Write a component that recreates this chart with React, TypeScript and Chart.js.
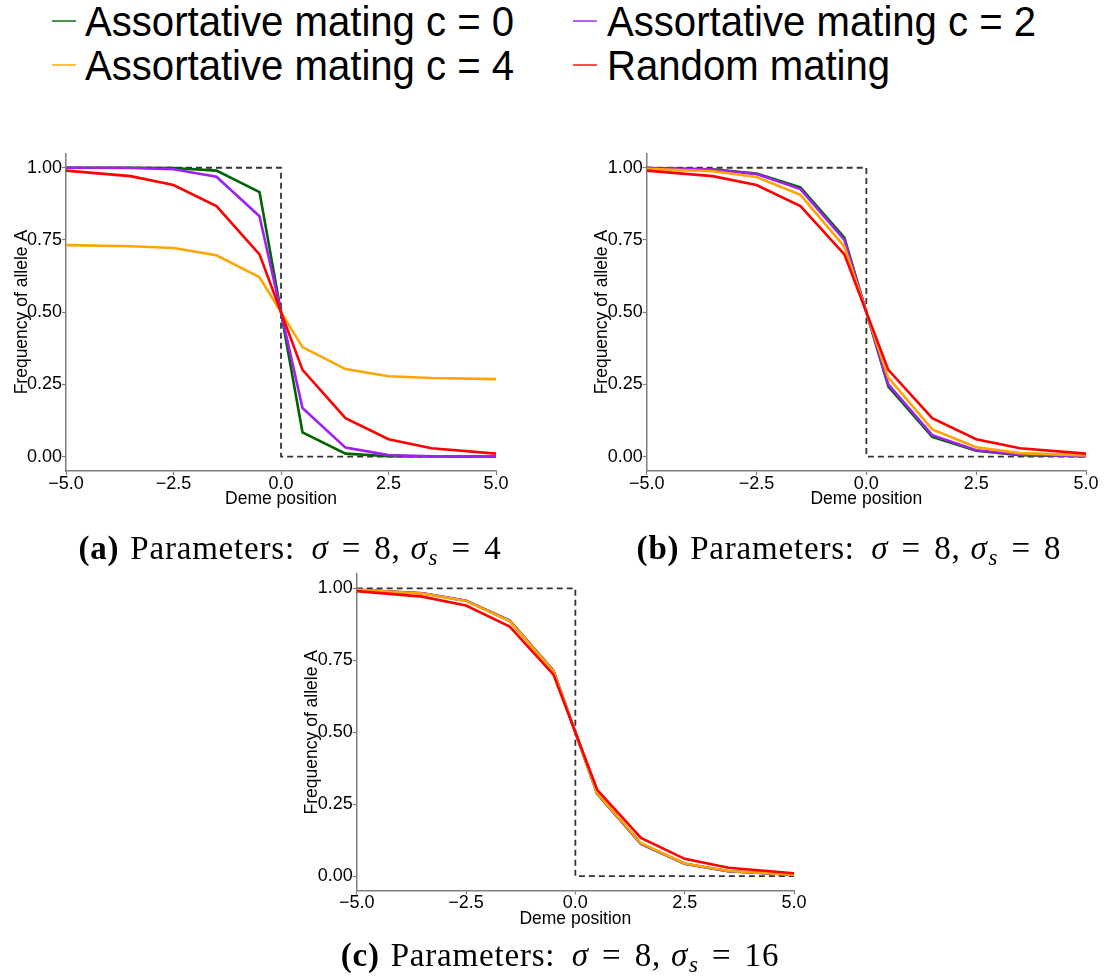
import React, { useEffect, useRef } from 'react';
import Chart from 'chart.js/auto';

// ---- data ----
const demeX = [-5, -3.5, -2.5, -1.5, -0.5, 0, 0.5, 1.5, 2.5, 3.5, 5];
const stepX = [-5, 0, 0, 5];
const stepY = [1, 1, 0, 0];
const xTicks = [-5, -2.5, 0, 2.5, 5];
const yTicks = [0, 0.25, 0.5, 0.75, 1];

const seriesNames = ['Assortative mating c = 0', 'Assortative mating c = 2', 'Assortative mating c = 4', 'Random mating'];
const seriesColors = ['#006400', '#a020f0', '#ffa500', '#ff0000'];

// panel (a) sigma = 8, sigma_s = 4
const aC0 = [1.0, 1.0, 0.999, 0.99, 0.916, 0.5, 0.084, 0.01, 0.001, 0.0, 0.0];
const aC2 = [1.0, 0.999, 0.995, 0.969, 0.832, 0.5, 0.168, 0.031, 0.005, 0.001, 0.0];
const aC4 = [0.732, 0.728, 0.722, 0.697, 0.621, 0.5, 0.379, 0.303, 0.278, 0.272, 0.268];
const aRnd = [0.99, 0.971, 0.94, 0.867, 0.7, 0.5, 0.3, 0.133, 0.06, 0.029, 0.01];

// panel (b) sigma = 8, sigma_s = 8
const bC0 = [0.999, 0.995, 0.98, 0.932, 0.758, 0.5, 0.242, 0.068, 0.02, 0.005, 0.001];
const bC2 = [0.999, 0.994, 0.978, 0.926, 0.75, 0.5, 0.25, 0.074, 0.022, 0.006, 0.001];
const bC4 = [0.996, 0.988, 0.968, 0.906, 0.727, 0.5, 0.273, 0.094, 0.032, 0.012, 0.004];
const bRnd = [0.99, 0.971, 0.94, 0.867, 0.7, 0.5, 0.3, 0.133, 0.06, 0.029, 0.01];

// panel (c) sigma = 8, sigma_s = 16
const cC0 = [0.995, 0.983, 0.957, 0.888, 0.714, 0.5, 0.286, 0.112, 0.043, 0.017, 0.005];
const cC2 = [0.995, 0.983, 0.957, 0.887, 0.713, 0.5, 0.287, 0.113, 0.043, 0.017, 0.005];
const cC4 = [0.995, 0.982, 0.956, 0.886, 0.712, 0.5, 0.288, 0.114, 0.044, 0.018, 0.005];
const cRnd = [0.99, 0.971, 0.94, 0.867, 0.7, 0.5, 0.3, 0.133, 0.06, 0.029, 0.01];

const captions = [
  { tag: '(a)', sigma: '8', sigmaS: '4' },
  { tag: '(b)', sigma: '8', sigmaS: '8' },
  { tag: '(c)', sigma: '8', sigmaS: '16' },
];

type PanelProps = {
  left: number; top: number; width: number; height: number;
  yWidth: number; xHeight: number; padTop: number; padRight: number;
  series: number[][];
};

const SANS = '"Liberation Sans", Arial, Helvetica, sans-serif';
const SERIF = '"Liberation Serif", "DejaVu Serif", serif';

function Panel(p: PanelProps) {
  const ref = useRef<HTMLCanvasElement>(null);
  useEffect(() => {
    const canvas = ref.current!;
    const orders = [3, 2, 1, 0];
    const datasets: any[] = p.series.map((vals, i) => ({
      label: seriesNames[i],
      data: demeX.map((x, j) => ({ x, y: vals[j] })),
      borderColor: seriesColors[i],
      backgroundColor: seriesColors[i],
      borderWidth: 2.6,
      pointRadius: 0,
      tension: 0,
      order: orders[i],
    }));
    datasets.push({
      label: 'step',
      data: stepX.map((x, j) => ({ x, y: stepY[j] })),
      borderColor: '#333333',
      borderWidth: 1.8,
      borderDash: [6, 4],
      pointRadius: 0,
      order: 5,
    });
    const chart = new Chart(canvas, {
      type: 'line',
      data: { datasets },
      options: {
        animation: false,
        responsive: false,
        devicePixelRatio: 1,
        layout: { padding: { top: p.padTop, right: p.padRight, left: 0, bottom: 0 } },
        plugins: { legend: { display: false }, tooltip: { enabled: false } },
        scales: {
          x: {
            type: 'linear',
            min: -5,
            max: 5,
            afterBuildTicks: (s: any) => { s.ticks = xTicks.map((v) => ({ value: v })); },
            afterFit: (s: any) => { s.height = p.xHeight; },
            ticks: {
              color: '#000',
              font: { family: SANS, size: 18 },
              padding: -2,
              maxRotation: 0,
              autoSkip: false,
              callback: (v: any) => Number(v).toFixed(1).replace('-', '\u2212'),
            },
            grid: { drawOnChartArea: false, drawTicks: true, tickLength: 4, tickColor: '#7f7f7f', tickWidth: 1.2 },
            border: { display: true, color: '#7f7f7f', width: 1.5 },
            title: {
              display: true,
              text: 'Deme position',
              color: '#000',
              font: { family: SANS, size: 17.5 },
              padding: { top: 0, bottom: 10.5 },
            },
          },
          y: {
            type: 'linear',
            min: -0.05,
            max: 1.05,
            afterBuildTicks: (s: any) => { s.ticks = yTicks.map((v) => ({ value: v })); },
            afterFit: (s: any) => { s.width = p.yWidth; },
            ticks: {
              color: '#000',
              font: { family: SANS, size: 18 },
              padding: 0,
              autoSkip: false,
              callback: (v: any) => Number(v).toFixed(2),
            },
            grid: { drawOnChartArea: false, drawTicks: true, tickLength: 4, tickColor: '#7f7f7f', tickWidth: 1.2 },
            border: { display: true, color: '#7f7f7f', width: 1.5 },
            title: {
              display: true,
              text: 'Frequency of allele A',
              color: '#000',
              font: { family: SANS, size: 17.5 },
              padding: { top: 11.5, bottom: 0 },
            },
          },
        },
      },
    });
    return () => chart.destroy();
  }, []);
  return (
    <canvas
      ref={ref}
      width={p.width}
      height={p.height}
      style={{ position: 'absolute', left: p.left, top: p.top, width: p.width, height: p.height }}
    />
  );
}

function Caption({ cx, cy, tag, sigma, sigmaS }: { cx: number; cy: number; tag: string; sigma: string; sigmaS: string }) {
  return (
    <div
      style={{
        position: 'absolute', left: cx, top: cy, transform: 'translate(-50%, -50%)',
        whiteSpace: 'nowrap', fontFamily: SERIF, fontSize: 33, lineHeight: 1, color: '#000',
        letterSpacing: 0.8,
      }}
    >
      <span style={{ fontWeight: 'bold' }}>{tag}</span>
      <span style={{ marginLeft: '0.33em' }}>Parameters:</span>
      <span style={{ marginLeft: '0.5em', fontStyle: 'italic' }}>σ</span>
      <span style={{ margin: '0 0.4em' }}>=</span>
      <span>{sigma},</span>
      <span style={{ marginLeft: '0.3em', fontStyle: 'italic' }}>σ</span>
      <span style={{ fontSize: 23, fontStyle: 'italic', position: 'relative', top: 6, marginLeft: 1 }}>s</span>
      <span style={{ margin: '0 0.4em' }}>=</span>
      <span>{sigmaS}</span>
    </div>
  );
}

export default function App() {
  const legendCols = [
    { marker: 52, text: 85 },
    { marker: 573, text: 607 },
  ];
  const legendRows = [21, 65];
  const legendOrder = [0, 1, 2, 3];
  return (
    <div style={{ position: 'absolute', left: 0, top: 0, width: 1108, height: 979, background: '#fff', overflow: 'hidden' }}>
      {legendOrder.map((idx, k) => {
        const col = legendCols[k % 2];
        const row = legendRows[Math.floor(k / 2)];
        return (
          <React.Fragment key={idx}>
            <div style={{ position: 'absolute', left: col.marker, top: row - 1, width: 24, height: 2, background: seriesColors[idx], opacity: 0.7 }} />
            <div
              style={{
                position: 'absolute', left: col.text, top: row - 20, fontFamily: SANS, fontSize: 42,
                lineHeight: 1, whiteSpace: 'nowrap', color: '#000',
                transform: 'scaleX(0.955)', transformOrigin: 'left center',
              }}
            >
              {seriesNames[idx]}
            </div>
          </React.Fragment>
        );
      })}
      <Panel left={0} top={140} width={540} height={380} yWidth={66} xHeight={49} padTop={13.3} padRight={44} series={[aC0, aC2, aC4, aRnd]} />
      <Panel left={580} top={140} width={528} height={380} yWidth={66.7} xHeight={49} padTop={13.3} padRight={22} series={[bC0, bC2, bC4, bRnd]} />
      <Panel left={290} top={560} width={540} height={380} yWidth={66.7} xHeight={49.5} padTop={13.9} padRight={36} series={[cC0, cC2, cC4, cRnd]} />
      <Caption cx={290} cy={548} {...captions[0]} />
      <Caption cx={849} cy={548} {...captions[1]} />
      <Caption cx={560} cy={955} {...captions[2]} />
    </div>
  );
}
